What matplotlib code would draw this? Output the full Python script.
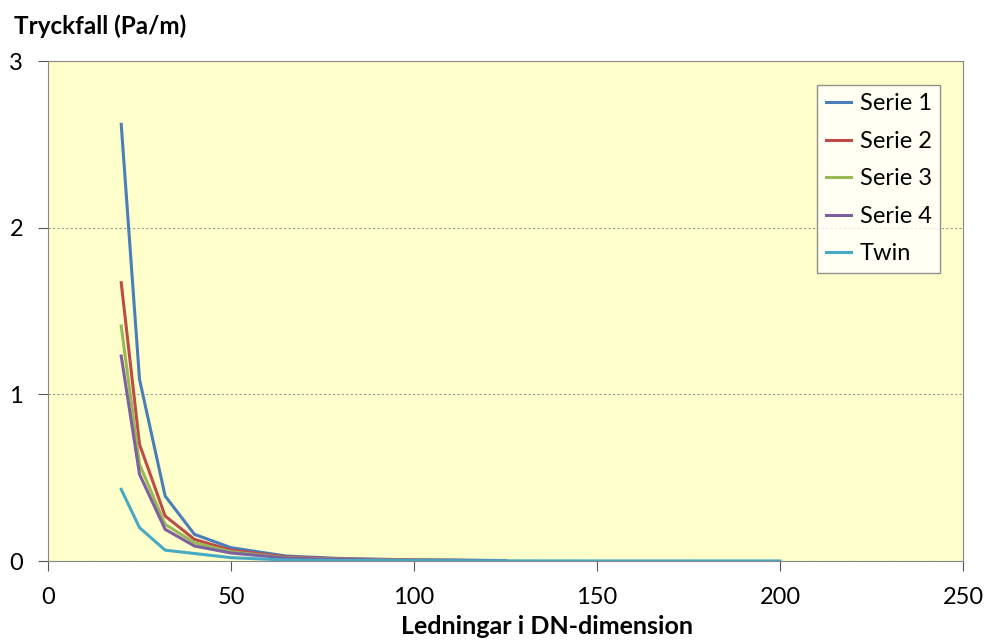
import matplotlib
matplotlib.use("Agg")
import matplotlib.pyplot as plt

dn = [20, 25, 32, 40, 50, 65, 80, 100, 125]
serie_1 = [2.62, 1.09, 0.39, 0.16, 0.08, 0.03, 0.015, 0.007, 0.003]
serie_2 = [1.67, 0.70, 0.27, 0.13, 0.065, 0.025, 0.012, 0.006, 0.002]
serie_3 = [1.41, 0.58, 0.22, 0.11, 0.055, 0.02, 0.01, 0.005, 0.002]
serie_4 = [1.23, 0.52, 0.19, 0.09, 0.048, 0.018, 0.009, 0.004, 0.002]

dn_twin = [20, 25, 32, 40, 50, 65, 80, 100, 125, 150, 200]
twin = [0.43, 0.20, 0.065, 0.045, 0.02, 0.006, 0.003, 0.002, 0.001, 0.0005, 0.0003]

plt.rcParams['font.family'] = ['Lato', 'DejaVu Sans']

fig = plt.figure(figsize=(9.86, 6.41), dpi=100)
ax = fig.add_axes([0.0487, 0.1248, 0.928, 0.780])
ax.set_facecolor('#FFFFCC')

ax.plot(dn, serie_1, color='#4A7EBB', lw=2.2, label='Serie 1')
ax.plot(dn, serie_2, color='#BE4B48', lw=2.2, label='Serie 2')
ax.plot(dn, serie_3, color='#98B954', lw=2.2, label='Serie 3')
ax.plot(dn, serie_4, color='#7D60A0', lw=2.2, label='Serie 4')
ax.plot(dn_twin, twin, color='#46AAC5', lw=2.2, label='Twin')

ax.set_xlim(0, 250)
ax.set_ylim(0, 3)
ax.set_xticks([0, 50, 100, 150, 200, 250])
ax.set_yticks([0, 1, 2, 3])
ax.tick_params(labelsize=17, length=7, color='#555555')
ax.tick_params(axis='x', pad=12)
ax.tick_params(axis='y', pad=11)
ax.yaxis.grid(True, linestyle=(0, (2, 2)), color='#999999', lw=0.8)
for s in ax.spines.values():
    s.set_color('#888888')

fig.text(0.014, 0.959, 'Tryckfall (Pa/m)', fontsize=17.5, fontweight='bold', va='center')
fig.text(0.555, 0.022, 'Ledningar i DN-dimension', fontsize=18, fontweight='bold',
         ha='center', va='center')

leg = ax.legend(loc='upper right', bbox_to_anchor=(0.975, 0.952), fontsize=17,
                frameon=True, fancybox=False, edgecolor='#777777', handlelength=1.1,
                borderpad=0.35, labelspacing=0.7, handletextpad=0.35, borderaxespad=0)
leg.get_frame().set_linewidth(1.0)

fig.savefig('out.png', dpi=100)
